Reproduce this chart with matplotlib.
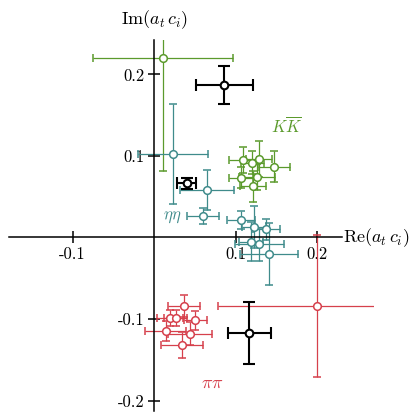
import numpy as np
import matplotlib
matplotlib.use("Agg")
import matplotlib.pyplot as plt

plt.rcParams['mathtext.fontset'] = 'cm'

# K Kbar points
kk_x = [0.0107, 0.1096, 0.1206, 0.1290, 0.1470, 0.1067, 0.1260, 0.1210]
kk_y = [0.2206, 0.0950, 0.0920, 0.0963, 0.0869, 0.0734, 0.0746, 0.0630]
kk_xerr = [0.086, 0.017, 0.014, 0.016, 0.020, 0.015, 0.022, 0.016]
kk_yerr = [0.139, 0.016, 0.014, 0.022, 0.019, 0.013, 0.016, 0.019]

# eta eta points
ee_x = [0.0237, 0.0654, 0.0605, 0.1067, 0.123, 0.138, 0.119, 0.129, 0.141]
ee_y = [0.102, 0.0583, 0.0264, 0.0215, 0.0129, 0.0100, -0.0050, -0.0083, -0.0199]
ee_xerr = [0.043, 0.033, 0.0195, 0.017, 0.015, 0.016, 0.015, 0.030, 0.036]
ee_yerr = [0.0614, 0.025, 0.0104, 0.011, 0.026, 0.013, 0.024, 0.020, 0.038]

# pi pi points
pp_x = [0.2000, 0.0368, 0.0507, 0.0196, 0.0266, 0.0143, 0.0442, 0.0344]
pp_y = [-0.084, -0.084, -0.1016, -0.099, -0.099, -0.115, -0.118, -0.132]
pp_xerr = [0.122, 0.020, 0.014, 0.016, 0.014, 0.025, 0.027, 0.026]
pp_yerr = [0.087, 0.013, 0.012, 0.010, 0.010, 0.012, 0.014, 0.016]

# black points
bk_x = [0.086, 0.040, 0.117]
bk_y = [0.187, 0.0665, -0.1176]
bk_xerr = [0.035, 0.012, 0.0266]
bk_yerr = [0.023, 0.007, 0.038]

xticks = [-0.1, 0.1, 0.2]
xticklabels = ['-0.1', '0.1', '0.2']
yticks = [-0.2, -0.1, 0.1, 0.2]
yticklabels = ['-0.2', '-0.1', '0.1', '0.2']

green = '#5b9a2c'
teal = '#3f8b8b'
red = '#d6404c'

W, H = 415, 419
# pixel mapping: x=0 at px 154, y=0 at py 237.5, 0.1 per 81.5 px
sc = 815.0
x0, y0 = 154.0, 237.5
xlim = (-0.19, 0.27)
ylim = (-0.215, 0.242)
left_px = x0 + xlim[0] * sc
right_px = x0 + xlim[1] * sc
top_px = y0 - ylim[1] * sc
bot_px = y0 - ylim[0] * sc

fig = plt.figure(figsize=(W / 100, H / 100), dpi=100)
ax = fig.add_axes([left_px / W, (H - bot_px) / H,
                   (right_px - left_px) / W, (bot_px - top_px) / H])
ax.set_xlim(*xlim)
ax.set_ylim(*ylim)
ax.patch.set_visible(False)

for s in ['top', 'right']:
    ax.spines[s].set_visible(False)
ax.spines['left'].set_position(('data', 0))
ax.spines['bottom'].set_position(('data', 0))
ax.spines['left'].set_bounds(-0.213, 0.242)
ax.spines['bottom'].set_bounds(-0.178, 0.231)
ax.spines['left'].set_linewidth(1.1)
ax.spines['bottom'].set_linewidth(1.1)

tickfont = dict(family='cmr10', size=12)
ax.set_xticks(xticks)
ax.set_xticklabels(xticklabels, **tickfont)
ax.set_yticks(yticks)
ax.set_yticklabels(yticklabels, **tickfont)
ax.tick_params(direction='inout', length=9, width=1.1, pad=2)

ekw = dict(fmt='o', markersize=5.5, markerfacecolor='white', markeredgewidth=1.1,
           elinewidth=0.9, capsize=3.2, capthick=0.9)
ax.errorbar(kk_x, kk_y, xerr=kk_xerr, yerr=kk_yerr, color=green, **ekw)
ax.errorbar(ee_x, ee_y, xerr=ee_xerr, yerr=ee_yerr, color=teal, **ekw)
ax.errorbar(pp_x, pp_y, xerr=pp_xerr, yerr=pp_yerr, color=red, **ekw)
ax.errorbar(bk_x, bk_y, xerr=bk_xerr, yerr=bk_yerr, color='black', fmt='o',
            markersize=5.5, markerfacecolor='white', markeredgewidth=1.5,
            elinewidth=1.5, capsize=4.5, capthick=1.5, zorder=5)

ax.text(0.232, 0.0, r'$\mathrm{Re}(a_t\,c_i)$', fontsize=13,
        ha='left', va='center', clip_on=False)
ax.text(0.001, 0.267, r'$\mathrm{Im}(a_t\,c_i)$', fontsize=13,
        ha='center', va='center', clip_on=False)
ax.text(0.163, 0.1356, r'$K\overline{K}$', fontsize=12, color=green,
        ha='center', va='center')
ax.text(0.022, 0.026, r'$\eta\eta$', fontsize=12, color=teal,
        ha='center', va='center')
ax.text(0.071, -0.1785, r'$\pi\pi$', fontsize=13, color=red,
        ha='center', va='center')

fig.savefig('out.png', dpi=100)
